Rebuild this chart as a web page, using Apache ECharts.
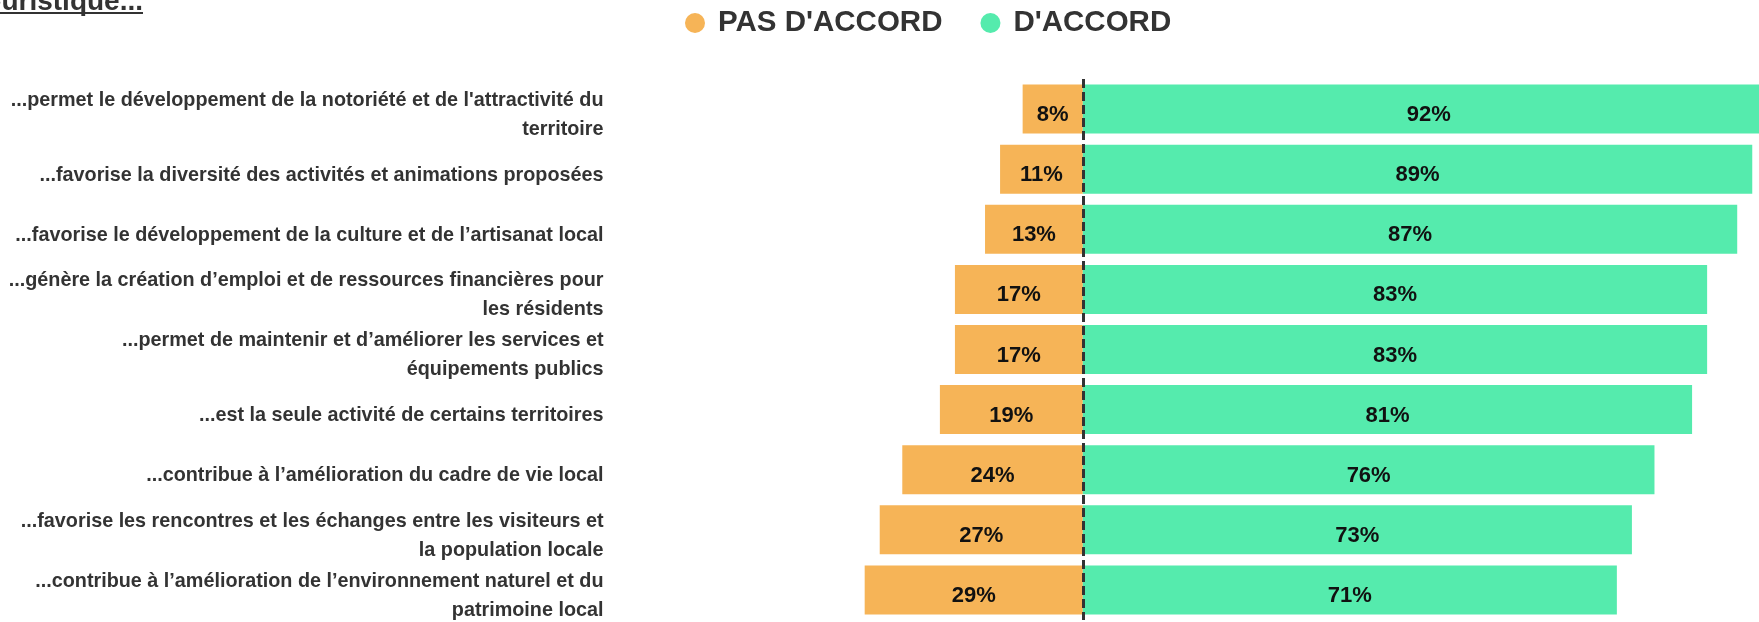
<!DOCTYPE html>
<html>
<head>
<meta charset="utf-8">
<script src="https://cdn.jsdelivr.net/npm/echarts@6/dist/echarts.min.js"></script>
<style>
html,body{margin:0;padding:0;background:#fff;overflow:hidden;}
/* the chart runs past the right edge of the window, like the original crop */
#chart{width:1835px;height:622px;}
</style>
</head>
<body>
<div id="chart"></div>
<script>
// items, top to bottom
var categories = [
    "...permet le développement de la notoriété et de l'attractivité du\nterritoire",
    "...favorise la diversité des activités et animations proposées",
    "...favorise le développement de la culture et de l’artisanat local",
    "...génère la création d’emploi et de ressources financières pour\nles résidents",
    "...permet de maintenir et d’améliorer les services et\néquipements publics",
    "...est la seule activité de certains territoires",
    "...contribue à l’amélioration du cadre de vie local",
    "...favorise les rencontres et les échanges entre les visiteurs et\nla population locale",
    "...contribue à l’amélioration de l’environnement naturel et du\npatrimoine local"
];
var pasDaccord = [8, 11, 13, 17, 17, 19, 24, 27, 29];
var daccord = [92, 89, 87, 83, 83, 81, 76, 73, 71];
var seriesNames = ["PAS D'ACCORD", "D'ACCORD"];
var titleText = "Selon vous, l'activité touristique...";

var chart = echarts.init(document.getElementById('chart'));
var font = '"Liberation Sans", Arial, sans-serif';

var barLabel = {
    show: true,
    position: 'inside',
    offset: [0, 6],
    color: '#111',
    fontSize: 22,
    fontWeight: 'bold',
    fontFamily: font,
    formatter: function (p) { return Math.abs(p.value) + '%'; }
};

var option = {
    animation: false,
    backgroundColor: '#fff',
    graphic: [
        {
            type: 'text',
            x: 143, y: 16,
            style: {
                text: titleText,
                align: 'right',
                verticalAlign: 'bottom',
                fill: '#333',
                font: 'bold 28px ' + font
            }
        },
        {
            type: 'line',
            shape: { x1: 0, y1: 13, x2: 143, y2: 13 },
            style: { stroke: '#333', lineWidth: 2 }
        }
    ],
    legend: {
        left: 680,
        top: 3,
        icon: 'circle',
        itemWidth: 20,
        itemHeight: 20,
        itemGap: 38,
        textStyle: {
            fontSize: 29.5,
            fontWeight: 'bold',
            color: '#333',
            fontFamily: font,
            padding: [0, 0, 6, 8]
        },
        data: seriesNames
    },
    grid: {
        left: 631.5,
        right: 0,
        top: 79,
        bottom: 2
    },
    xAxis: {
        type: 'value',
        min: -60,
        max: 100,
        show: false
    },
    yAxis: {
        type: 'category',
        inverse: true,
        data: categories,
        axisLine: { show: false, onZero: false },
        axisTick: { show: false },
        axisLabel: {
            interval: 0,
            margin: 28,
            align: 'right',
            formatter: function (v) {
                // small spacer line pushes the text a few px below the bar centre
                return '{s| }\n' + v.split('\n').map(function (l) { return '{a|' + l + '}'; }).join('\n');
            },
            rich: {
                s: { fontSize: 2, lineHeight: 12 },
                a: {
                    fontSize: 19.8,
                    fontWeight: 'bold',
                    color: '#333',
                    fontFamily: font,
                    lineHeight: 29,
                    align: 'right'
                }
            }
        }
    },
    series: [
        {
            name: seriesNames[0],
            type: 'bar',
            stack: 'total',
            barWidth: 49,
            itemStyle: { color: '#F6B457' },
            label: barLabel,
            data: pasDaccord.map(function (v) { return -v; })
        },
        {
            name: seriesNames[1],
            type: 'bar',
            stack: 'total',
            barWidth: 49,
            itemStyle: { color: '#55EBAD' },
            label: barLabel,
            data: daccord,
            markLine: {
                silent: true,
                symbol: 'none',
                label: { show: false },
                lineStyle: { color: '#333', width: 3, type: [9, 4] },
                data: [{ xAxis: 0 }]
            }
        }
    ]
};
chart.setOption(option);
</script>
</body>
</html>
